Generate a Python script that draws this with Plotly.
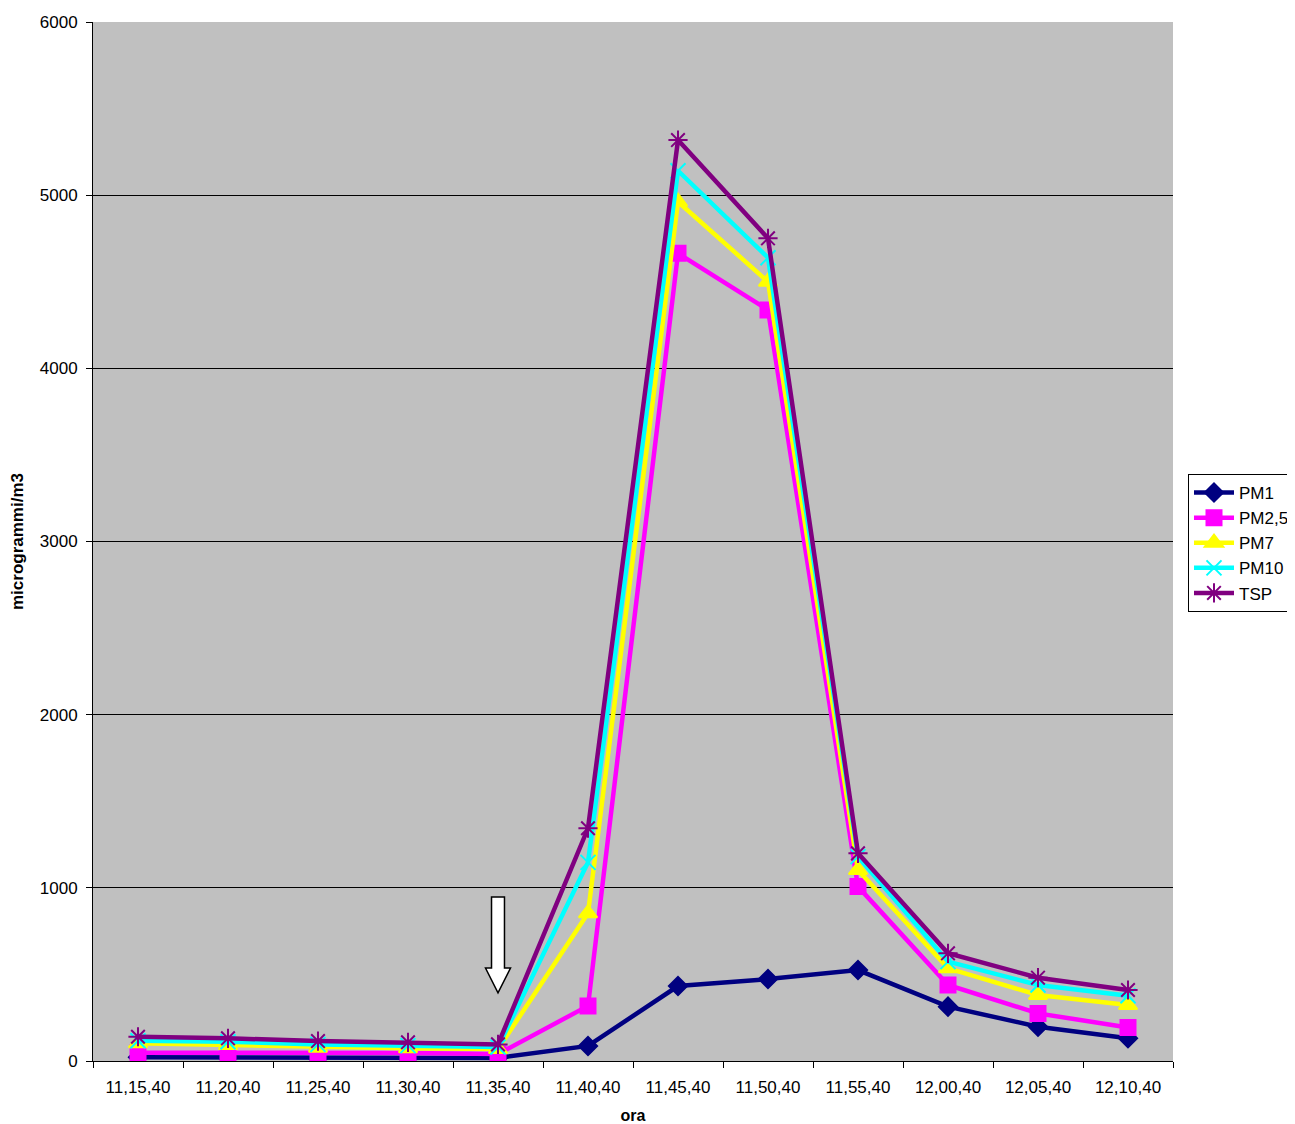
import plotly.graph_objects as go

categories = ["11,15,40", "11,20,40", "11,25,40", "11,30,40", "11,35,40", "11,40,40",
              "11,45,40", "11,50,40", "11,55,40", "12,00,40", "12,05,40", "12,10,40"]
pm1 = [21, 19, 16, 16, 18, 87, 433, 473, 525, 314, 198, 131]
pm25 = [48, 48, 46, 46, 40, 318, 4664, 4337, 1007, 439, 275, 194]
pm7 = [102, 92, 77, 73, 69, 853, 4962, 4500, 1103, 535, 381, 323]
pm10 = [117, 111, 96, 89, 81, 1147, 5141, 4639, 1180, 574, 439, 377]
tsp = [140, 131, 115, 108, 96, 1344, 5318, 4751, 1199, 622, 481, 410]

series = [
    ("PM1", pm1, "#000080", "diamond", 14),
    ("PM2,5", pm25, "#FF00FF", "square", 15),
    ("PM7", pm7, "#FFFF00", "triangle-up", 16),
    ("PM10", pm10, "#00FFFF", "x-thin-open", 15),
    ("TSP", tsp, "#800080", "asterisk-open", 16),
]

fig = go.Figure()
for name, vals, color, sym, sz in series:
    fig.add_trace(go.Scatter(
        x=categories, y=vals, name=name, mode="lines+markers",
        line=dict(color=color, width=4.5),
        marker=dict(symbol=sym, size=sz, color=color,
                    line=dict(color=color, width=2)),
    ))

# hollow downward arrow marking event at 11,35,40
xc = 4
hw, hh = 0.072, 0.139
y_top, y_head, y_tip = 947, 537, 393
path = (f"M {xc-hw},{y_top} L {xc+hw},{y_top} L {xc+hw},{y_head} L {xc+hh},{y_head} "
        f"L {xc},{y_tip} L {xc-hh},{y_head} L {xc-hw},{y_head} Z")
fig.add_shape(type="path", path=path, xref="x", yref="y",
              fillcolor="white", line=dict(color="black", width=1.5), layer="above")

W, H = 1287, 1116
fig.update_layout(
    width=W, height=H,
    margin=dict(l=85, r=122, t=14, b=63, autoexpand=False),
    paper_bgcolor="white", plot_bgcolor="#C0C0C0",
    font=dict(family="Arial, Liberation Sans, sans-serif", size=17, color="black"),
    showlegend=True,
    legend=dict(xref="container", yref="container",
                x=(1188 - 8) / W, y=1 - (474 - 8) / H, xanchor="left", yanchor="top",
                bgcolor="white", bordercolor="black", borderwidth=1,
                font=dict(size=17), itemwidth=40, tracegroupgap=0),
    xaxis=dict(
        type="category", range=[-0.5, 11.5], tickson="boundaries", automargin=False,
        showline=True, linecolor="black", linewidth=1,
        ticks="outside", ticklen=6, tickcolor="black", ticklabelstandoff=11,
        showgrid=False, zeroline=False, tickfont=dict(size=17),
        title=dict(text="<b>ora</b>", font=dict(size=16), standoff=15),
    ),
    yaxis=dict(
        range=[0, 6000], dtick=1000, tickformat="d", automargin=False,
        showline=True, linecolor="black", linewidth=1,
        ticks="outside", ticklen=6, tickcolor="black", tickfont=dict(size=17),
        ticklabelstandoff=5,
        showgrid=True, gridcolor="black", gridwidth=1, zeroline=False,
        title=dict(text="<b>microgrammi/m3</b>", font=dict(size=17), standoff=16),
    ),
)

fig.write_html("out.html")
